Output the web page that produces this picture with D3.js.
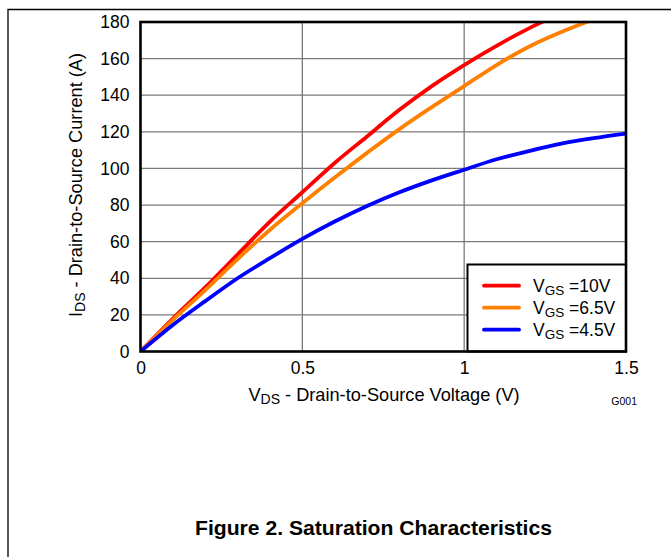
<!DOCTYPE html>
<html>
<head>
<meta charset="utf-8">
<script src="https://cdn.jsdelivr.net/npm/d3@7"></script>
<style>
  html, body { margin: 0; padding: 0; background: #fff; }
  svg { display: block; font-family: "Liberation Sans", Arial, sans-serif; }
</style>
</head>
<body>
<svg id="chart" width="671" height="557"></svg>
<script>
// Drain voltage samples (V) and drain current (A) for each gate drive
const vds10 = [0, 0.1, 0.2, 0.3, 0.4, 0.5, 0.6, 0.7, 0.8, 0.9, 1.0, 1.1, 1.2, 1.3];
const ids10 = [0, 18, 35, 53, 71, 87, 103, 117.5, 132, 145, 156.5, 167, 176.5, 185];

const vds65 = [0, 0.1, 0.2, 0.3, 0.4, 0.5, 0.6, 0.7, 0.8, 0.9, 1.0, 1.1, 1.2, 1.3, 1.4];
const ids65 = [0, 17.3, 33.5, 50.5, 66.5, 81, 95, 108.5, 121.5, 133.5, 145, 156.5, 166.5, 174.5, 181.5];

const vds45 = [0, 0.1, 0.2, 0.3, 0.4, 0.5, 0.6, 0.7, 0.8, 0.9, 1.0, 1.1, 1.2, 1.3, 1.4, 1.5];
const ids45 = [0, 14.5, 27.5, 40, 51, 61.5, 71, 79.5, 87, 93.5, 99.3, 105, 109.5, 113.5, 116.5, 119];

const seriesNames = ["=10V", "=6.5V", "=4.5V"];
const seriesColors = ["#ff0000", "#ff8000", "#0000ff"];

const xTicks = [0, 0.5, 1, 1.5];
const xTickLabels = ["0", "0.5", "1", "1.5"];
const yTicks = [0, 20, 40, 60, 80, 100, 120, 140, 160, 180];

const series = [
  { name: seriesNames[0], color: seriesColors[0], pts: vds10.map((v, i) => [v, ids10[i]]) },
  { name: seriesNames[1], color: seriesColors[1], pts: vds65.map((v, i) => [v, ids65[i]]) },
  { name: seriesNames[2], color: seriesColors[2], pts: vds45.map((v, i) => [v, ids45[i]]) }
];

const svg = d3.select("#chart");

// outer page frame (top and left rules)
svg.append("path")
  .attr("d", "M8,557 L8,9.5 L671,9.5")
  .attr("fill", "none").attr("stroke", "#000").attr("stroke-width", 1.3);

const plot = { left: 140.5, right: 626, top: 22, bottom: 351.5 };

const x = d3.scaleLinear().domain([0, 1.5]).range([plot.left, plot.right]);
const y = d3.scaleLinear().domain([0, 180]).range([plot.bottom, plot.top]);

svg.append("defs").append("clipPath").attr("id", "plotClip")
  .append("rect")
  .attr("x", plot.left).attr("y", plot.top)
  .attr("width", plot.right - plot.left).attr("height", plot.bottom - plot.top);

// grid
const grid = svg.append("g");
grid.selectAll("line.v").data(xTicks.slice(1, -1)).join("line")
  .attr("x1", d => x(d)).attr("x2", d => x(d))
  .attr("y1", plot.top).attr("y2", plot.bottom)
  .attr("stroke", "#7a7a7a").attr("stroke-width", 1.3);
grid.selectAll("line.h").data(yTicks.slice(1, -1)).join("line")
  .attr("x1", plot.left).attr("x2", plot.right)
  .attr("y1", d => y(d)).attr("y2", d => y(d))
  .attr("stroke", "#7a7a7a").attr("stroke-width", 1.3);

// curves
const line = d3.line().x(d => x(d[0])).y(d => y(d[1])).curve(d3.curveMonotoneX);
svg.append("g").attr("clip-path", "url(#plotClip)")
  .selectAll("path").data(series).join("path")
  .attr("d", d => line(d.pts))
  .attr("fill", "none")
  .attr("stroke", d => d.color)
  .attr("stroke-width", 3.8)
  .attr("stroke-linejoin", "round");

// axes (labels only; frame drawn separately)
const xAxis = d3.axisBottom(x).tickValues(xTicks)
  .tickFormat((d, i) => xTickLabels[i]).tickSize(0).tickPadding(10);
const gx = svg.append("g").attr("transform", `translate(0,${plot.bottom})`).call(xAxis);
gx.select(".domain").remove();
gx.selectAll("text").attr("font-size", 17.5).attr("fill", "#000")
  .attr("font-family", "Liberation Sans, Arial, sans-serif");

const yAxis = d3.axisLeft(y).tickValues(yTicks).tickSize(0).tickPadding(11);
const gy = svg.append("g").attr("transform", `translate(${plot.left},0)`).call(yAxis);
gy.select(".domain").remove();
gy.selectAll("text").attr("font-size", 17.5).attr("fill", "#000")
  .attr("font-family", "Liberation Sans, Arial, sans-serif");

// legend
const lg = svg.append("g");
lg.append("rect")
  .attr("x", 467.5).attr("y", 264.5)
  .attr("width", plot.right - 467.5).attr("height", plot.bottom - 264.5)
  .attr("fill", "#fff").attr("stroke", "#000").attr("stroke-width", 2);
const rowY = d3.scalePoint().domain(seriesNames).range([285.7, 329.7]);
series.forEach(s => {
  const yy = rowY(s.name);
  lg.append("line")
    .attr("x1", 484).attr("x2", 519).attr("y1", yy).attr("y2", yy)
    .attr("stroke", s.color).attr("stroke-width", 3.8).attr("stroke-linecap", "round");
  const t = lg.append("text").attr("x", 533).attr("y", yy + 6)
    .attr("font-size", 17.5).attr("fill", "#000");
  t.append("tspan").text("V");
  t.append("tspan").attr("font-size", 13.5).attr("dy", 3).text("GS");
  t.append("tspan").attr("dy", -3).text(" " + s.name);
});

// plot frame
svg.append("rect")
  .attr("x", plot.left).attr("y", plot.top)
  .attr("width", plot.right - plot.left).attr("height", plot.bottom - plot.top)
  .attr("fill", "none").attr("stroke", "#000").attr("stroke-width", 2.6);

// axis titles
const xt = svg.append("text").attr("x", 384).attr("y", 401)
  .attr("text-anchor", "middle").attr("font-size", 18.2).attr("fill", "#000");
xt.append("tspan").text("V");
xt.append("tspan").attr("font-size", 14).attr("dy", 3).text("DS");
xt.append("tspan").attr("dy", -3).text(" - Drain-to-Source Voltage (V)");

const yt = svg.append("text")
  .attr("transform", "translate(82,185) rotate(-90)")
  .attr("text-anchor", "middle").attr("font-size", 18.2).attr("fill", "#000");
yt.append("tspan").text("I");
yt.append("tspan").attr("font-size", 14).attr("dy", 3).text("DS");
yt.append("tspan").attr("dy", -3).text(" - Drain-to-Source Current (A)");

svg.append("text").attr("x", 637).attr("y", 405)
  .attr("text-anchor", "end").attr("font-size", 10.5).attr("fill", "#000").text("G001");

// figure caption
svg.append("text").attr("x", 373.5).attr("y", 535)
  .attr("text-anchor", "middle").attr("font-size", 20).attr("font-weight", "bold")
  .attr("textLength", 357).attr("lengthAdjust", "spacingAndGlyphs")
  .attr("fill", "#000").text("Figure 2. Saturation Characteristics");
</script>
</body>
</html>
